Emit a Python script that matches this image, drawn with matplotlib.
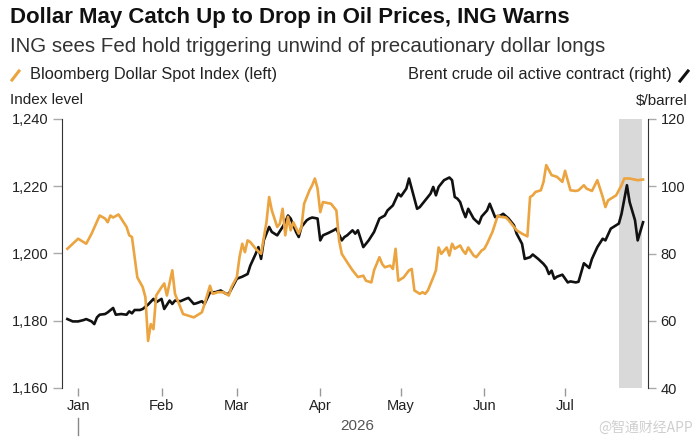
import matplotlib
matplotlib.use('Agg')

import pandas as pd
import matplotlib.pyplot as plt
import matplotlib.ticker as mticker
from matplotlib.lines import Line2D

plt.rcParams['font.family'] = ['Liberation Sans', 'DejaVu Sans']

BASE = pd.Timestamp('2026-01-01')

# Bloomberg Dollar Spot Index (left axis), days counted from Jan 1 2026
dollar_day = [-4, -2, 0, 1, 3, 5, 8, 10, 11, 12, 13, 15, 16, 18, 19, 20, 21, 22, 24, 25,
              26, 27, 28, 29, 31, 32, 33, 35, 36, 38, 39, 41, 43, 44, 46, 47, 49, 50, 52, 54,
              56, 57, 59, 60, 61, 62, 63, 64, 66, 68, 70, 71, 72, 74, 75, 76, 77, 78, 79, 80,
              82, 83, 84, 86, 87, 88, 89, 90, 91, 94, 96, 97, 98, 100, 102, 104, 106, 107, 109, 110,
              112, 113, 114, 116, 117, 118, 119, 121, 123, 124, 125, 127, 128, 129, 130, 132, 133, 134, 135, 137,
              138, 139, 140, 142, 143, 144, 145, 147, 148, 150, 151, 152, 154, 156, 157, 159, 160, 162, 163, 165,
              167, 168, 169, 170, 172, 173, 174, 176, 178, 180, 181, 183, 185, 186, 188, 189, 191, 193, 195, 196,
              197, 199, 200, 201, 202, 203, 205, 208, 210]
dollar_val = [1201.4, 1202.9, 1204.4, 1203.9, 1202.9, 1205.9, 1211.3, 1210.4, 1209.3, 1211.3,
              1210.7, 1211.6, 1210.4, 1207.9, 1205.4, 1204.9, 1198.9, 1192.9, 1190.0, 1187.0,
              1174.0, 1179.0, 1177.5, 1187.5, 1190.0, 1191.1, 1187.5, 1195.0, 1188.0, 1184.0,
              1182.0, 1181.5, 1181.0, 1181.5, 1182.5, 1185.0, 1190.4, 1188.0, 1188.5, 1188.5,
              1187.5, 1190.0, 1193.0, 1199.0, 1202.9, 1200.4, 1203.9, 1203.4, 1201.4, 1199.9,
              1209.3, 1216.8, 1212.8, 1207.9, 1208.9, 1213.3, 1205.4, 1210.9, 1206.9, 1209.3,
              1205.9, 1207.9, 1214.8, 1218.8, 1220.3, 1222.3, 1219.3, 1212.3, 1215.3, 1214.8,
              1212.8, 1203.9, 1199.9, 1197.4, 1195.0, 1193.0, 1193.4, 1191.9, 1191.4, 1195.0,
              1198.9, 1196.9, 1195.9, 1196.4, 1195.4, 1201.4, 1191.9, 1192.9, 1195.0, 1195.4,
              1189.0, 1188.0, 1188.5, 1188.0, 1189.0, 1192.9, 1195.0, 1201.8, 1199.9, 1201.8,
              1199.4, 1202.9, 1201.4, 1202.4, 1200.9, 1199.9, 1201.8, 1199.4, 1198.9, 1200.9,
              1201.4, 1202.9, 1206.4, 1211.3, 1210.9, 1210.7, 1209.9, 1207.9, 1206.9, 1205.9,
              1205.1, 1216.8, 1217.3, 1218.3, 1218.8, 1221.3, 1226.3, 1223.3, 1222.8, 1221.3,
              1224.6, 1218.8, 1218.6, 1218.8, 1220.3, 1219.3, 1218.6, 1221.8, 1216.8, 1213.8,
              1215.8, 1216.8, 1217.3, 1218.8, 1220.3, 1222.3, 1222.3, 1221.8, 1222.0]

# Brent crude oil active contract (right axis), $/barrel
oil_day = [-4, -2, 0, 2, 3, 5, 6, 7, 8, 10, 11, 13, 14, 16, 18, 19, 20, 21, 23, 24,
           26, 28, 29, 31, 32, 34, 35, 36, 38, 40, 41, 43, 44, 46, 47, 49, 51, 53, 55, 56,
           58, 59, 61, 63, 64, 66, 67, 68, 69, 71, 72, 74, 76, 77, 78, 79, 81, 82, 83, 85,
           86, 87, 89, 90, 91, 93, 95, 96, 98, 99, 100, 102, 103, 104, 106, 108, 110, 112, 114, 115,
           117, 119, 120, 122, 123, 124, 126, 127, 129, 131, 132, 133, 134, 136, 138, 139, 140, 141, 142, 143,
           144, 145, 147, 149, 150, 152, 153, 155, 157, 158, 160, 162, 163, 165, 166, 168, 169, 171, 173, 174,
           175, 176, 177, 178, 180, 182, 183, 185, 186, 188, 190, 191, 193, 195, 196, 198, 199, 201, 202, 204,
           205, 207, 208, 210]
oil_val = [60.5, 59.8, 59.8, 60.2, 60.5, 59.8, 59.0, 61.0, 61.8, 62.0,
           62.5, 63.8, 61.8, 62.0, 61.8, 62.8, 62.2, 63.2, 63.2, 63.5,
           64.8, 66.5, 65.5, 66.5, 63.5, 66.0, 65.0, 66.0, 65.8, 66.5,
           66.8, 65.0, 65.2, 65.8, 65.0, 68.4, 68.5, 69.0, 68.0, 68.0,
           71.0, 72.5, 73.1, 73.9, 76.4, 79.9, 81.9, 78.4, 83.9, 87.9,
           86.4, 85.4, 87.9, 89.3, 91.3, 90.4, 86.4, 84.9, 87.9, 89.9,
           90.4, 90.7, 90.4, 83.9, 85.4, 86.1, 86.9, 87.4, 83.9, 84.9,
           85.4, 86.9, 85.9, 86.9, 81.9, 83.9, 86.4, 90.4, 91.3, 92.8,
           94.3, 97.8, 97.0, 99.3, 102.3, 99.3, 93.3, 93.8, 95.8, 97.8,
           99.8, 97.3, 99.8, 101.8, 102.6, 101.8, 96.8, 96.3, 95.3, 92.8,
           90.8, 93.3, 90.4, 88.9, 91.0, 92.8, 94.8, 90.8, 91.3, 91.8,
           90.4, 88.4, 85.9, 82.9, 78.4, 78.9, 79.7, 78.4, 76.9, 75.9,
           73.9, 74.9, 72.5, 73.1, 73.7, 71.4, 71.7, 71.4, 71.6, 77.1,
           75.7, 78.4, 81.9, 84.4, 83.9, 87.4, 87.9, 88.9, 91.8, 100.3,
           95.3, 89.9, 83.9, 89.3]

month_labels = ['Jan', 'Feb', 'Mar', 'Apr', 'May', 'Jun', 'Jul']
left_ticks = [1160, 1180, 1200, 1220, 1240]
right_ticks = [40, 60, 80, 100, 120]
shade_span = ('2026-07-21', '2026-07-29 12:00')

ORANGE = '#eba43f'
BLACK = '#111111'

dollar_dates = BASE + pd.to_timedelta(dollar_day, unit='D')
oil_dates = BASE + pd.to_timedelta(oil_day, unit='D')
month_ticks = pd.date_range('2026-01-01', periods=len(month_labels), freq='MS')

fig = plt.figure(figsize=(6.98, 4.43), dpi=100)
ax = fig.add_axes([62 / 698, 1 - 388 / 443, 586 / 698, 269 / 443])
ax2 = ax.twinx()

# dollar line drawn above the oil line
ax.set_zorder(ax2.get_zorder() + 1)
ax.patch.set_visible(False)

ax2.axvspan(pd.Timestamp(shade_span[0]), pd.Timestamp(shade_span[1]), color='#d9d9d9', lw=0, zorder=0)
ax2.plot(oil_dates, oil_val, color=BLACK, lw=1.9)
ax.plot(dollar_dates, dollar_val, color=ORANGE, lw=1.9)

ax.set_xlim(pd.Timestamp('2025-12-26'), pd.Timestamp('2026-07-31 20:00'))
ax.set_ylim(1160, 1240)
ax2.set_ylim(40, 120)

for s in ['top', 'right', 'bottom']:
    ax.spines[s].set_visible(False)
for s in ['top', 'left', 'bottom']:
    ax2.spines[s].set_visible(False)
ax.spines['left'].set_color('#333333')
ax2.spines['right'].set_color('#333333')

ax.set_yticks(left_ticks)
ax.yaxis.set_major_formatter(mticker.StrMethodFormatter('{x:,.0f}'))
ax2.set_yticks(right_ticks)
ax.tick_params(axis='y', direction='out', length=6.5, width=1, color='#aaaaaa',
               labelsize=10.5, labelcolor='#222222', pad=3)
ax2.tick_params(axis='y', direction='out', length=6, width=1, color='#aaaaaa',
                labelsize=10.5, labelcolor='#222222', pad=3)

ax.set_xticks(month_ticks)
ax.set_xticklabels(month_labels)
ax.tick_params(axis='x', direction='out', length=6, width=1, color='#999999',
               labelsize=10.5, labelcolor='#222222', pad=2)

# year marker under Jan
ax.plot([month_ticks[0], month_ticks[0]], [-0.112, -0.175], color='#888888', lw=1,
        transform=ax.get_xaxis_transform(), clip_on=False)
fig.text(357 / 698, 1 - 426 / 443, '2026', ha='center', va='center', fontsize=11, color='#555555')

# headline block
fig.text(10 / 698, 1 - 17 / 443, 'Dollar May Catch Up to Drop in Oil Prices, ING Warns',
         ha='left', va='center', fontsize=16, fontweight='bold', color='#111111')
fig.text(10 / 698, 1 - 46 / 443, 'ING sees Fed hold triggering unwind of precautionary dollar longs',
         ha='left', va='center', fontsize=14.8, color='#333333')

# legend
fig.add_artist(Line2D([12 / 698, 19 / 698], [1 - 80 / 443, 1 - 71 / 443], color=ORANGE, lw=2.2,
                      transform=fig.transFigure))
fig.text(30 / 698, 1 - 75 / 443, 'Bloomberg Dollar Spot Index (left)', ha='left', va='center',
         fontsize=11.8, color='#222222')
fig.add_artist(Line2D([680 / 698, 688 / 698], [1 - 81 / 443, 1 - 71 / 443], color=BLACK, lw=2.2,
                      transform=fig.transFigure))
fig.text(672 / 698, 1 - 75 / 443, 'Brent crude oil active contract (right)', ha='right', va='center',
         fontsize=11.8, color='#222222')

fig.text(10 / 698, 1 - 100 / 443, 'Index level', ha='left', va='center', fontsize=11, color='#222222')
fig.text(688 / 698, 1 - 101 / 443, '$/barrel', ha='right', va='center', fontsize=11, color='#222222')

# watermark
fig.text(693 / 698, 1 - 428 / 443, '@智通财经APP', ha='right', va='center', fontsize=10,
         color='#cfcfcf', family=['Noto Sans CJK SC', 'DejaVu Sans'])

fig.savefig('out.png', dpi=100)
